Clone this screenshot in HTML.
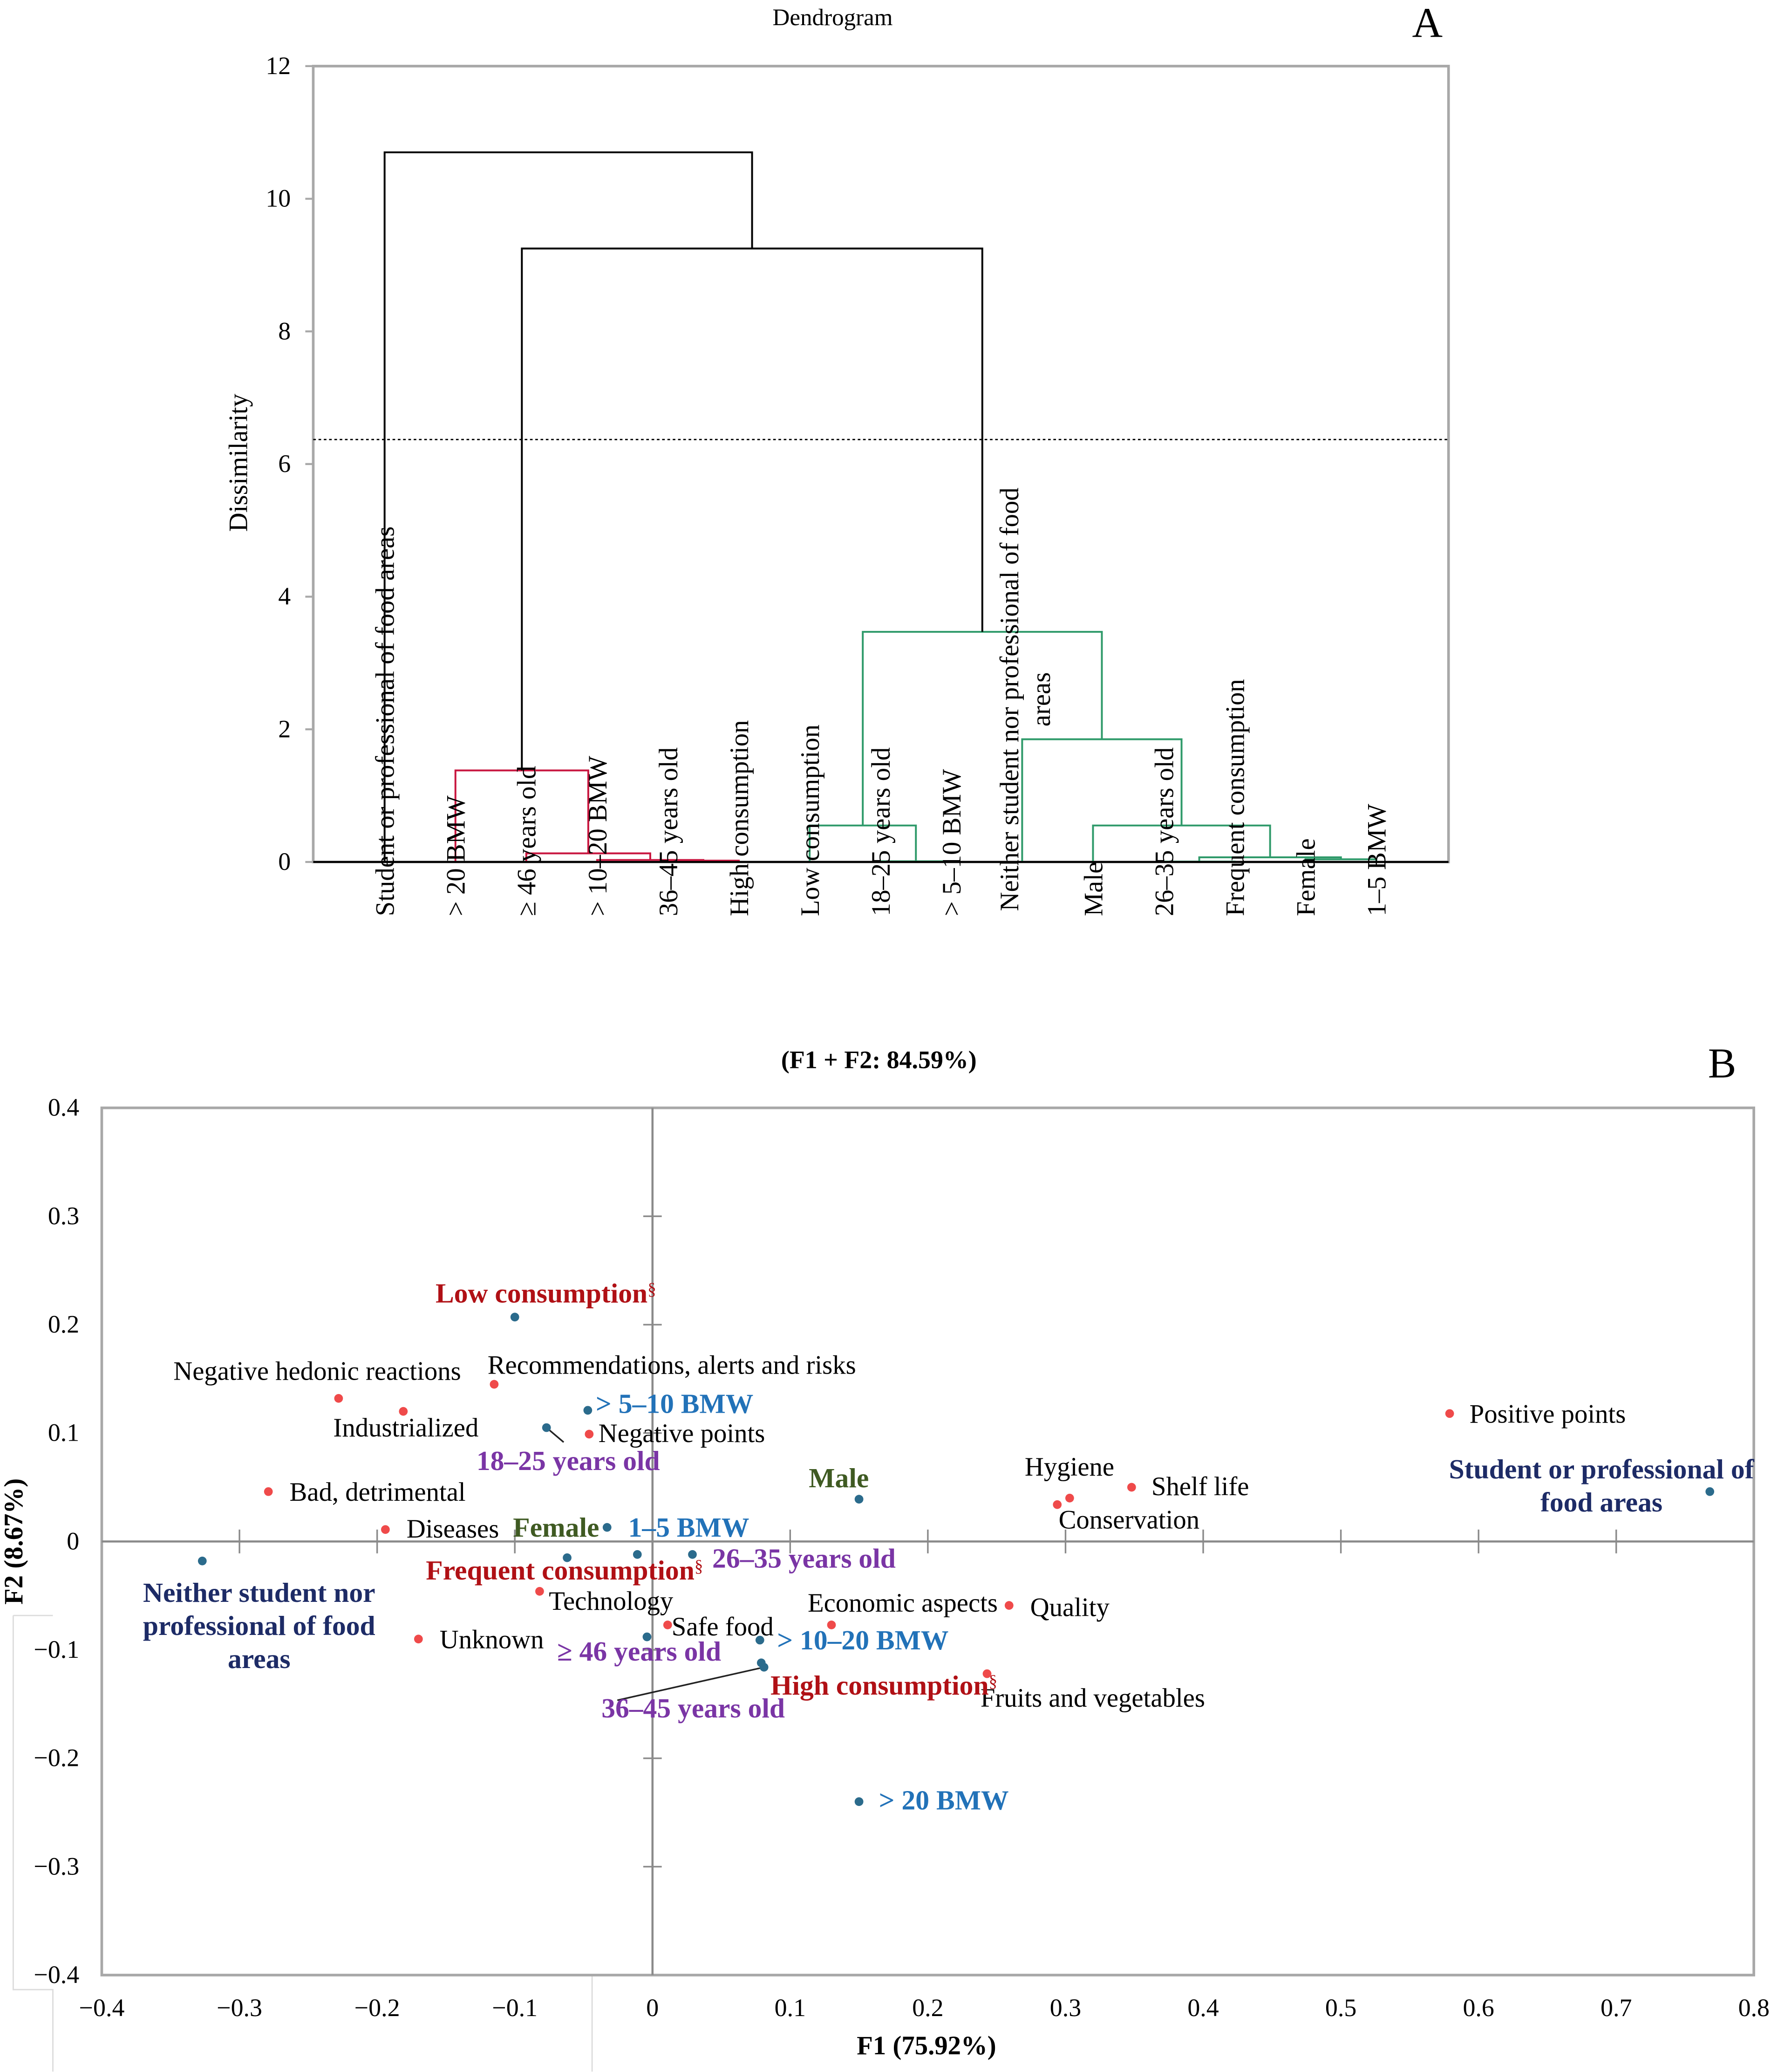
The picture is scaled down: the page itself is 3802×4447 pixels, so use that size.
<!DOCTYPE html>
<html><head><meta charset="utf-8"><style>
html,body{margin:0;padding:0;background:#fff;}
svg{display:block;font-family:"Liberation Serif",serif;}
</style></head><body>
<svg id="fig" xmlns="http://www.w3.org/2000/svg" width="3802" height="4447" viewBox="0 0 1340 1567.3">
<rect x="0" y="0" width="1340" height="1567.3" fill="#fff"/>
<g id="dendro">
  <text x="630" y="19" font-size="18" text-anchor="middle">Dendrogram</text>
  <text x="1080" y="28" font-size="32" text-anchor="middle">A</text>
  <rect x="237" y="50" width="859" height="602" fill="none" stroke="#a8a8a8" stroke-width="2"/>
  <text transform="translate(187,350) rotate(-90)" font-size="20" text-anchor="middle">Dissimilarity</text>
</g>
<g id="biplot">
  <text x="665" y="808" font-size="19" font-weight="bold" text-anchor="middle">(F1 + F2: 84.59%)</text>
  <text x="1303" y="815" font-size="32" text-anchor="middle">B</text>
  <path d="M10 1222 H40 M10 1222 V1505 H40 V1567 M448 1494 V1567" fill="none" stroke="#dcdcdc" stroke-width="1"/>
  <rect x="77" y="838" width="1250" height="656" fill="none" stroke="#a8a8a8" stroke-width="2"/>
  <text x="701" y="1554" font-size="20" font-weight="bold" text-anchor="middle">F1 (75.92%)</text>
  <text transform="translate(17,1166) rotate(-90)" font-size="20" font-weight="bold" text-anchor="middle">F2 (8.67%)</text>
</g>
</svg>
<script>
// ===== Dendrogram data =====
const leafLabels = ["Student or professional of food areas","> 20 BMW","\u2265 46 years old","> 10\u201320 BMW","36\u201345 years old","High consumption","Low consumption","18\u201325 years old","> 5\u201310 BMW","Neither student nor professional of food areas","Male","26\u201335 years old","Frequent consumption","Female","1\u20135 BMW"];
const mergeLeft  = [4, 3, 2, 1, 7, 6, 11, 13, "n6", 10, 9, "n5", "n3", 0];
const mergeRight = [5, "n0", "n1", "n2", 8, "n4", 12, 14, "n7", "n8", "n9", "n10", "n11", "n12"];
const mergeHeight= [0.02, 0.03, 0.13, 1.38, 0.01, 0.55, 0.005, 0.04, 0.07, 0.55, 1.85, 3.47, 9.25, 10.7];
const mergeGroup = ["r","r","r","r","g","g","g","g","g","g","g","g","k","k"];
const dTicks = [0,2,4,6,8,10,12];
const cutLevel = 6.37;

const NS="http://www.w3.org/2000/svg";
const svg=document.getElementById('fig');
const dG=document.getElementById('dendro');
const bG=document.getElementById('biplot');
function mk(tag,attrs,parent,txt){const e=document.createElementNS(NS,tag);for(const k in attrs)e.setAttribute(k,attrs[k]);if(txt!==undefined)e.textContent=txt;parent.appendChild(e);return e;}

const dy=v=>652-v*(602/12);
const leafX=i=>291+i*53.6;
const colors={r:"#c8163f",g:"#2f9a6a",k:"#000"};

dTicks.forEach(t=>{
  const l=mk('line',{x1:231,x2:237,y1:dy(t),y2:dy(t),stroke:'#a8a8a8','stroke-width':1.5},dG);
  
  
  const tx=mk('text',{x:220,y:dy(t)+6,'font-size':19,'text-anchor':'end'},dG,String(t));
  
  
});
const cut=mk('line',{x1:237,x2:1096,y1:dy(cutLevel),y2:dy(cutLevel),stroke:'#000','stroke-width':1,'stroke-dasharray':'2,2'},dG);



const nodeX=[],nodeH=[];
function pos(c){ if(typeof c==="number") return [leafX(c),0]; const i=+c.slice(1); return [nodeX[i],nodeH[i]]; }
mergeHeight.forEach((h,i)=>{
  const [xa,ha]=pos(mergeLeft[i]); const [xb,hb]=pos(mergeRight[i]);
  nodeX[i]=(xa+xb)/2; nodeH[i]=h;
  const p=mk('path',{d:`M${xa} ${dy(ha)} V${dy(h)} H${xb} V${dy(hb)}`,fill:'none',stroke:colors[mergeGroup[i]],'stroke-width':1.4},dG);
  
  
});
const base=mk('line',{x1:237,x2:1096,y1:652,y2:652,stroke:'#000','stroke-width':1.5},dG);



leafLabels.forEach((s,i)=>{
  const x=leafX(i)+7;
  if(i===9){
    const t1=mk('text',{transform:`translate(${x-10},529) rotate(-90)`,'font-size':20,'text-anchor':'middle'},dG,"Neither student nor professional of food");
    
    
    const t2=mk('text',{transform:`translate(${x+14},529) rotate(-90)`,'font-size':20,'text-anchor':'middle'},dG,"areas");
    
    
  } else {
    const t=mk('text',{transform:`translate(${x},693) rotate(-90)`,'font-size':20},dG,s);
    
    
  }
});

// ===== Biplot data =====
const varNames = ["Negative hedonic reactions","Industrialized","Recommendations, alerts and risks","Negative points","Bad, detrimental","Diseases","Technology","Unknown","Safe food","Economic aspects","Quality","Fruits and vegetables","Hygiene","Conservation","Shelf life","Positive points"];
const varF1 = [-0.228,-0.181,-0.115,-0.046,-0.279,-0.194,-0.082,-0.170,0.011,0.130,0.259,0.243,0.303,0.294,0.348,0.579];
const varF2 = [0.132,0.120,0.145,0.099,0.046,0.011,-0.046,-0.090,-0.077,-0.077,-0.059,-0.122,0.040,0.034,0.050,0.118];
const varLabelOffset = [[-125,-14],[-53,19],[-5,-8],[7,6],[16,7],[16,6],[7,14],[16,7],[3,8],[-18,-10],[16,8],[-5,25],[-34,-17],[1,18],[15,6],[15,7]];

const catNames = ["Low consumption","> 5\u201310 BMW","18\u201325 years old","Male","Student or professional of|food areas","Neither student nor|professional of food|areas","Female","1\u20135 BMW","Frequent consumption","26\u201335 years old","\u2265 46 years old","> 10\u201320 BMW","High consumption","36\u201345 years old","> 20 BMW"];
const catF1 = [-0.100,-0.047,-0.077,0.150,0.768,-0.327,-0.062,-0.033,-0.011,0.029,-0.004,0.078,0.079,0.081,0.150];
const catF2 = [0.207,0.121,0.105,0.039,0.046,-0.018,-0.015,0.013,-0.012,-0.012,-0.088,-0.091,-0.112,-0.116,-0.240];
const catType = ["cons","bmw","age","sex","occ","occ","sex","bmw","cons","age","age","bmw","cons","age","bmw"];
const catLabelOffset = [[-60,-11],[6,2],[-53,32],[-38,-9],[-82,-10],[43,31],[-41,-16],[16,7],[-160,19],[15,10],[-68,18],[13,7],[7,24],[-123,38],[15,6]];
const xTicks = [-0.4,-0.3,-0.2,-0.1,0,0.1,0.2,0.3,0.4,0.5,0.6,0.7,0.8];
const yTicks = [0.4,0.3,0.2,0.1,0,-0.1,-0.2,-0.3,-0.4];

const bx=v=>493.7+v*1041.7;
const by=v=>1166-v*820;
const catColor={cons:"#b01015",bmw:"#2272b8",age:"#7a35a5",sex:"#3f5a22",occ:"#1d2b66"};
const fmt=v=>(v<0?"\u2212":"")+(v===0?"0":Math.abs(v).toFixed(1));

const ax=mk('line',{x1:77,x2:1327,y1:by(0),y2:by(0),stroke:'#8a8a8a','stroke-width':1.6},bG);


const ay=mk('line',{x1:bx(0),x2:bx(0),y1:838,y2:1494,stroke:'#8a8a8a','stroke-width':1.6},bG);



xTicks.forEach(t=>{
  if(t>-0.4&&t<0.8){
    const tk=mk('line',{x1:bx(t),x2:bx(t),y1:by(0)-9,y2:by(0)+9,stroke:'#8a8a8a','stroke-width':1.2},bG);
    
    
  }
  const tx=mk('text',{x:bx(t),y:1525,'font-size':19,'text-anchor':'middle'},bG,fmt(t));
  
  
});
yTicks.forEach(t=>{
  if(t<0.4&&t>-0.4){
    const tk=mk('line',{x1:bx(0)-7,x2:bx(0)+7,y1:by(t),y2:by(t),stroke:'#8a8a8a','stroke-width':1.2},bG);
    
    
  }
  const tx=mk('text',{x:60,y:by(t)+6,'font-size':19,'text-anchor':'end'},bG,fmt(t));
  
  
});

[[2,[13,11]],[13,[-111,25]]].forEach(([i,[ddx,ddy]])=>{
  const l=mk('line',{x1:bx(catF1[i]),y1:by(catF2[i]),x2:bx(catF1[i])+ddx,y2:by(catF2[i])+ddy,stroke:'#222','stroke-width':1.2},bG);
  
  
});

varNames.forEach((n,i)=>{
  const c=mk('circle',{cx:bx(varF1[i]),cy:by(varF2[i]),r:3.3,fill:'#ef4a4a'},bG);
  
  
  const t=mk('text',{x:bx(varF1[i])+varLabelOffset[i][0],y:by(varF2[i])+varLabelOffset[i][1],'font-size':20},bG,n);
  
  
});
catNames.forEach((n,i)=>{
  const px=bx(catF1[i]),py=by(catF2[i]);
  const c=mk('circle',{cx:px,cy:py,r:3.3,fill:'#2b6b8c'},bG);
  
  
  const lines=n.split('|');
  const multi=lines.length>1;
  const x=px+catLabelOffset[i][0], y0=py+catLabelOffset[i][1];
  const t=mk('text',{x:x,y:y0,'font-size':21,'font-weight':'bold',fill:catColor[catType[i]],'text-anchor':multi?'middle':'start'},bG);
  
  
  lines.forEach((ln,k)=>{mk('tspan',{x:x,dy:k===0?0:25},t,ln);});
  if(catType[i]==='cons'){ mk('tspan',{'font-size':13,dy:-6,'font-weight':'normal'},t,'\u00a7'); }
});
</script>
</body></html>
